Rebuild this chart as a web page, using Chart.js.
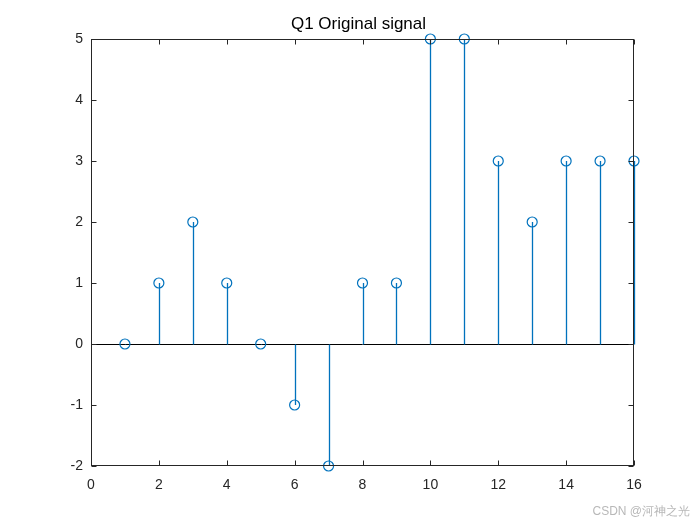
<!DOCTYPE html>
<html>
<head>
<meta charset="utf-8">
<script src="https://cdn.jsdelivr.net/npm/chart.js@4/dist/chart.umd.min.js"></script>
<style>
  html, body { margin: 0; padding: 0; background: #fff; }
  #wrap { width: 700px; height: 525px; }
</style>
</head>
<body>
<div id="wrap"><canvas id="stemcanvas" width="700" height="525"></canvas></div>
<script>
// sample index and signal values
var xIndex = [1, 2, 3, 4, 5, 6, 7, 8, 9, 10, 11, 12, 13, 14, 15, 16];
var signal = [0, 1, 2, 1, 0, -1, -2, 1, 1, 5, 5, 3, 2, 3, 3, 3];
var xTicks = [0, 2, 4, 6, 8, 10, 12, 14, 16];
var yTicks = [-2, -1, 0, 1, 2, 3, 4, 5];
var titleText = "Q1 Original signal";
var markText = "CSDN @河神之光";

var stemColor = "#0072BD";
var fontName = "'Liberation Sans', Arial, sans-serif";

var points = [];
for (let i = 0; i < xIndex.length; i++) {
    points.push({x: xIndex[i], y: signal[i]});
}

// box, inward ticks, baseline, stems, title and watermark (matlab look)
var matlabBox = {
    id: "matlabBox",
    beforeDatasetsDraw: function(chart) {
        var c = chart.ctx, xs = chart.scales.x, ys = chart.scales.y;
        var y0 = Math.round(ys.getPixelForValue(0)) + 0.5;
        c.save();
        // baseline
        c.strokeStyle = "#000";
        c.lineWidth = 1;
        c.beginPath();
        c.moveTo(xs.getPixelForValue(0), y0);
        c.lineTo(xs.getPixelForValue(16), y0);
        c.stroke();
        // stems
        c.strokeStyle = stemColor;
        c.lineWidth = 1.3;
        c.beginPath();
        points.forEach(function(p) {
            var px = Math.round(xs.getPixelForValue(p.x)) + 0.5;
            c.moveTo(px, y0);
            c.lineTo(px, Math.round(ys.getPixelForValue(p.y)));
        });
        c.stroke();
        c.restore();
    },
    afterDraw: function(chart) {
        var c = chart.ctx, xs = chart.scales.x, ys = chart.scales.y;
        var a = chart.chartArea;
        var L = Math.round(a.left) + 0.5, R = Math.round(a.right) - 0.5;
        var T = Math.round(a.top) + 0.5, B = Math.round(a.bottom) - 0.5;
        c.save();
        c.strokeStyle = "#262626";
        c.lineWidth = 1;
        c.strokeRect(L, T, R - L, B - T);
        c.beginPath();
        xTicks.forEach(function(v) {
            var px = Math.round(xs.getPixelForValue(v)) + 0.5;
            c.moveTo(px, B); c.lineTo(px, B - 5);
            c.moveTo(px, T); c.lineTo(px, T + 5);
        });
        yTicks.forEach(function(v) {
            var py = Math.round(ys.getPixelForValue(v)) + 0.5;
            c.moveTo(L, py); c.lineTo(L + 5, py);
            c.moveTo(R, py); c.lineTo(R - 5, py);
        });
        c.stroke();

        c.fillStyle = "#000";
        c.font = "17px " + fontName;
        c.textAlign = "center";
        c.textBaseline = "alphabetic";
        c.fillText(titleText, 358.5, 29);

        c.fillStyle = "#b8b8b8";
        c.font = "12px " + fontName;
        c.textAlign = "right";
        c.textBaseline = "middle";
        c.fillText(markText, 690, 512);
        c.restore();
    }
};

var ctx = document.getElementById("stemcanvas");
var chart = new Chart(ctx, {
    type: "scatter",
    data: {
        datasets: [
            {
                data: points,
                showLine: false,
                clip: false,
                pointStyle: "circle",
                pointRadius: 5,
                pointHoverRadius: 5,
                borderWidth: 1.2,
                pointBorderColor: stemColor,
                pointBackgroundColor: "rgba(0,0,0,0)"
            }
        ]
    },
    options: {
        responsive: false,
        animation: false,
        events: [],
        layout: { padding: { left: 0, right: 66, top: 39, bottom: 0 } },
        plugins: { legend: { display: false }, tooltip: { enabled: false }, title: { display: false } },
        scales: {
            x: {
                type: "linear",
                min: 0, max: 16,
                grid: { display: false, drawTicks: false },
                border: { display: false },
                afterFit: function(s) { s.height = 59; },
                afterBuildTicks: function(s) { s.ticks = xTicks.map(function(v) { return {value: v}; }); },
                ticks: { color: "#262626", padding: 11, maxRotation: 0, font: { size: 14, family: fontName } }
            },
            y: {
                type: "linear",
                min: -2, max: 5,
                grid: { display: false, drawTicks: false },
                border: { display: false },
                afterFit: function(s) { s.width = 91; },
                afterBuildTicks: function(s) { s.ticks = yTicks.map(function(v) { return {value: v}; }); },
                ticks: { color: "#262626", padding: 8, font: { size: 14, family: fontName } }
            }
        }
    },
    plugins: [matlabBox]
});
</script>
</body>
</html>
